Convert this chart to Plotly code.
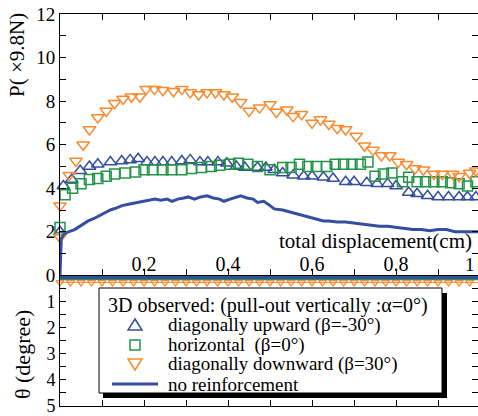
import plotly.graph_objects as go

# ---------------- data ----------------
# diagonally downward (beta=30 deg)  -- orange
down_x = [0, 0, 0.022, 0.038, 0.055, 0.07, 0.09, 0.11, 0.13, 0.15, 0.17, 0.19, 0.205, 0.225, 0.245,
          0.27, 0.29, 0.31, 0.33, 0.35, 0.37, 0.39, 0.41, 0.43, 0.45, 0.475, 0.50, 0.515, 0.54, 0.555,
          0.575, 0.60, 0.62, 0.64, 0.66, 0.68, 0.705, 0.725, 0.745, 0.765, 0.785, 0.805, 0.825, 0.845,
          0.865, 0.89, 0.91, 0.935, 0.95, 0.975, 0.99]
down_P = [1.75, 3.2, 4.6, 5.25, 6.0, 6.7, 7.25, 7.55, 7.9, 8.1, 8.2, 8.2, 8.55, 8.55, 8.5,
          8.45, 8.55, 8.4, 8.3, 8.4, 8.4, 8.3, 8.2, 7.95, 7.55, 7.7, 7.85, 7.5, 7.6, 7.3,
          7.4, 7.0, 7.15, 6.95, 6.75, 6.7, 6.4, 5.95, 5.75, 5.5, 5.5, 5.2, 5.1, 4.9,
          4.85, 4.65, 4.65, 4.65, 4.55, 4.7, 4.8]

# diagonally upward (beta=-30 deg)  -- blue triangles
up_x = [0, 0.008, 0.028, 0.048, 0.07, 0.09, 0.12, 0.147, 0.167, 0.186, 0.207, 0.226, 0.245, 0.266, 0.29,
        0.31, 0.333, 0.352, 0.376, 0.397, 0.42, 0.44, 0.47, 0.49, 0.51, 0.53, 0.555, 0.58, 0.60, 0.627,
        0.65, 0.68, 0.70, 0.73, 0.755, 0.78, 0.80, 0.83, 0.85, 0.875, 0.90, 0.925, 0.95, 0.97, 0.99]
up_P = [2.0, 4.1, 4.4, 4.8, 5.0, 5.1, 5.2, 5.25, 5.3, 5.35, 5.2, 5.2, 5.2, 5.2, 5.25,
        5.3, 5.2, 5.2, 5.2, 5.15, 5.0, 4.95, 4.95, 4.95, 4.85, 4.7, 4.6, 4.55, 4.55, 4.5,
        4.45, 4.3, 4.3, 4.25, 4.2, 4.2, 4.1, 3.8, 3.75, 3.65, 3.6, 3.6, 3.6, 3.6, 3.6]

# horizontal (beta=0 deg)  -- green squares
hor_x = [0, 0.012, 0.03, 0.05, 0.07, 0.09, 0.11, 0.13, 0.155, 0.18, 0.20, 0.22, 0.245, 0.265, 0.29, 0.313,
         0.337, 0.36, 0.38, 0.405, 0.425, 0.447, 0.47, 0.50, 0.53, 0.55, 0.57, 0.59, 0.61, 0.635, 0.655,
         0.675, 0.695, 0.715, 0.733, 0.75, 0.77, 0.79, 0.815, 0.83, 0.85, 0.87, 0.89, 0.91, 0.93, 0.95,
         0.97, 0.99]
hor_P = [2.2, 3.7, 4.0, 4.2, 4.4, 4.45, 4.55, 4.65, 4.7, 4.75, 4.85, 4.85, 4.85, 4.85, 4.85, 4.9,
         4.95, 5.0, 5.05, 5.1, 5.15, 5.1, 5.0, 4.85, 4.95, 4.95, 5.1, 5.0, 5.0, 5.0, 5.1,
         5.1, 5.1, 5.1, 5.2, 4.55, 4.65, 4.7, 4.3, 4.5, 4.3, 4.3, 4.3, 4.3, 4.25, 4.2,
         4.1, 4.3]

# no reinforcement  -- blue line
none_x = [0, 0.003, 0.01, 0.02, 0.035, 0.05, 0.067, 0.08, 0.095, 0.107, 0.12, 0.135, 0.148, 0.16, 0.175,
          0.195, 0.21, 0.226, 0.24, 0.255, 0.267, 0.28, 0.295, 0.305, 0.32, 0.335, 0.35, 0.365, 0.38,
          0.39, 0.405, 0.42, 0.43, 0.445, 0.46, 0.47, 0.485, 0.5, 0.51, 0.53, 0.55, 0.57, 0.59, 0.61,
          0.627, 0.64, 0.66, 0.68, 0.70, 0.72, 0.74, 0.76, 0.78, 0.80, 0.82, 0.84, 0.86, 0.88, 0.90,
          0.92, 0.94, 0.96, 0.98, 1.0]
none_P = [0, 1.7, 1.9, 2.0, 2.1, 2.3, 2.5, 2.6, 2.75, 2.9, 3.0, 3.1, 3.2, 3.25, 3.3,
          3.4, 3.45, 3.5, 3.45, 3.5, 3.4, 3.5, 3.55, 3.6, 3.5, 3.6, 3.65, 3.55, 3.5,
          3.4, 3.5, 3.6, 3.65, 3.55, 3.5, 3.35, 3.4, 3.2, 3.05, 3.0, 2.9, 2.8, 2.7, 2.6,
          2.5, 2.5, 2.45, 2.45, 2.4, 2.35, 2.3, 2.25, 2.25, 2.2, 2.15, 2.1, 2.1, 2.05, 2.1,
          2.1, 2.0, 2.0, 2.0, 2.0]

# theta (degree) records
th_x = [0.000, 0.025, 0.050, 0.075, 0.100, 0.125, 0.150, 0.175, 0.200, 0.225, 0.250, 0.275, 0.300, 0.325,
        0.350, 0.375, 0.400, 0.425, 0.450, 0.475, 0.500, 0.525, 0.550, 0.575, 0.600, 0.625, 0.650, 0.675,
        0.700, 0.725, 0.750, 0.775, 0.800, 0.825, 0.850, 0.875, 0.900, 0.925, 0.950, 0.975, 1.000]
th_up = [-0.05] * 41
th_hor = [0.15] * 41
th_down = [0.27] * 41
th_none = [0.08] * 41

y_ticks_P = [0, 1, 2, 3, 4, 5, 6, 7, 8, 9, 10, 11, 12]
y_text_P = ['0', '', '2', '', '4', '', '6', '', '8', '', '10', '', '12']
y_ticks_th = [0, 0.5, 1, 1.5, 2, 2.5, 3, 3.5, 4, 4.5, 5]
y_text_th = ['', '', '1', '', '2', '', '3', '', '4', '', '5']
x_ticks = [0.1, 0.2, 0.3, 0.4, 0.5, 0.6, 0.7, 0.8, 0.9]
x_label_vals = [0.2, 0.4, 0.6, 0.8]
x_label_text = ['0.2', '0.4', '0.6', '0.8']

legend_title = '3D observed: (pull-out vertically :α=0°)'
legend_labels = ['diagonally upward (β=-30°)', 'horizontal\u00a0\u00a0(β=0°)',
                 'diagonally downward (β=30°)', 'no reinforcement']

BLUE = 'rgb(52,78,160)'
GREEN = 'rgb(34,148,72)'
ORANGE = 'rgb(248,138,48)'
FONT = 'Liberation Serif, Times New Roman, serif'
XR = 0.995

TOP, BOT = 14, 406   # plot area top / bottom in pixels

# pixel -> paper helpers (plot area: x 60..478)
def PX(x):
    return (x - 60) / 418.0

def PY(y):
    return (BOT - y) / float(BOT - TOP)

fig = go.Figure()

# theta traces (lower panel)
fig.add_trace(go.Scatter(x=th_x, y=th_hor, xaxis='x2', yaxis='y2', mode='lines',
                         line=dict(color=GREEN, width=2), showlegend=False, hoverinfo='skip'))
fig.add_trace(go.Scatter(x=th_x, y=th_down, xaxis='x2', yaxis='y2', mode='lines+markers',
                         line=dict(color=ORANGE, width=1),
                         marker=dict(symbol='triangle-down-open', size=7, color=ORANGE, line=dict(width=1.2)),
                         showlegend=False, hoverinfo='skip', cliponaxis=False))
fig.add_trace(go.Scatter(x=th_x, y=th_none, xaxis='x2', yaxis='y2', mode='lines',
                         line=dict(color=BLUE, width=3), showlegend=False, hoverinfo='skip'))
fig.add_trace(go.Scatter(x=th_x, y=th_up, xaxis='x2', yaxis='y2', mode='lines+markers',
                         line=dict(color=BLUE, width=1),
                         marker=dict(symbol='triangle-up', size=6, color='white', line=dict(width=1.2, color=BLUE)),
                         showlegend=False, hoverinfo='skip', cliponaxis=False))

# force (upper panel)
fig.add_trace(go.Scatter(x=up_x, y=up_P, mode='markers', name=legend_labels[0],
                         marker=dict(symbol='triangle-up-open', size=11, color=BLUE, line=dict(width=1.5)),
                         cliponaxis=False))
fig.add_trace(go.Scatter(x=hor_x, y=hor_P, mode='markers', name=legend_labels[1],
                         marker=dict(symbol='square-open', size=10, color=GREEN, line=dict(width=1.5)),
                         cliponaxis=False))
fig.add_trace(go.Scatter(x=down_x, y=down_P, mode='markers', name=legend_labels[2],
                         marker=dict(symbol='triangle-down-open', size=11, color=ORANGE, line=dict(width=1.5)),
                         cliponaxis=False))
fig.add_trace(go.Scatter(x=none_x, y=none_P, mode='lines', name=legend_labels[3],
                         line=dict(color=BLUE, width=3)))
# empty trace that carries the labelled zero-line axis
fig.add_trace(go.Scatter(x=[], y=[], xaxis='x3', yaxis='y', showlegend=False, hoverinfo='skip'))

axis_common = dict(showline=True, linecolor='black', linewidth=1, showgrid=False, zeroline=False,
                   ticks='inside', tickcolor='black', ticklen=6, tickwidth=1,
                   ticklabeloverflow='allow')

# ---- hand-drawn legend box (shadow + frame + symbols) ----
shapes = [
    dict(type='rect', xref='paper', yref='paper', x0=PX(103), x1=PX(447), y0=PY(398), y1=PY(293),
         fillcolor='black', line=dict(width=0), layer='above'),
    dict(type='rect', xref='paper', yref='paper', x0=PX(99), x1=PX(442), y0=PY(393), y1=PY(288),
         fillcolor='white', line=dict(width=1, color='black'), layer='above'),
]
sym_x = 135
row_y = [325, 345, 364, 384]
tx, ty = sym_x, row_y[0]
shapes.append(dict(type='path', xref='paper', yref='paper', layer='above',
                   path=f'M {PX(tx-7)} {PY(ty+5)} L {PX(tx+7)} {PY(ty+5)} L {PX(tx)} {PY(ty-6)} Z',
                   line=dict(color=BLUE, width=1.5), fillcolor='white'))
tx, ty = sym_x, row_y[1]
shapes.append(dict(type='rect', xref='paper', yref='paper', layer='above',
                   x0=PX(tx-5), x1=PX(tx+5), y0=PY(ty+5), y1=PY(ty-5),
                   line=dict(color=GREEN, width=1.5), fillcolor='white'))
tx, ty = sym_x, row_y[2]
shapes.append(dict(type='path', xref='paper', yref='paper', layer='above',
                   path=f'M {PX(tx-7)} {PY(ty-5)} L {PX(tx+7)} {PY(ty-5)} L {PX(tx)} {PY(ty+6)} Z',
                   line=dict(color=ORANGE, width=1.5), fillcolor='white'))
shapes.append(dict(type='line', xref='paper', yref='paper', layer='above',
                   x0=PX(112), x1=PX(158), y0=PY(row_y[3]), y1=PY(row_y[3]),
                   line=dict(color=BLUE, width=3)))

LFS = 19
annotations = [
    dict(text=legend_title, xref='paper', yref='paper', x=PX(106), y=PY(305), xanchor='left',
         yanchor='middle', showarrow=False, font=dict(family=FONT, size=20, color='black')),
]
for lab, ry in zip(legend_labels, row_y):
    annotations.append(dict(text=lab, xref='paper', yref='paper', x=PX(166), y=PY(ry), xanchor='left',
                            yanchor='middle', showarrow=False,
                            font=dict(family=FONT, size=LFS, color='black')))

annotations += [
    dict(text='P( ×9.8N)', xref='paper', yref='paper', x=PX(17), y=PY(55), textangle=-90,
         showarrow=False, font=dict(family=FONT, size=21), xanchor='center', yanchor='middle'),
    dict(text='θ (degree)', xref='paper', yref='paper', x=PX(22), y=PY(355), textangle=-90,
         showarrow=False, font=dict(family=FONT, size=22), xanchor='center', yanchor='middle'),
    dict(text='total displacement(cm)', xref='paper', yref='paper', x=PX(474), y=PY(241),
         showarrow=False, font=dict(family=FONT, size=21), xanchor='right', yanchor='middle'),
    dict(text='1', xref='paper', yref='paper', x=PX(477), y=PY(264),
         showarrow=False, font=dict(family=FONT, size=19), xanchor='right', yanchor='middle'),
]

fig.update_layout(
    width=478, height=416,
    margin=dict(l=60, r=0, t=TOP, b=416 - BOT, autoexpand=False),
    paper_bgcolor='white', plot_bgcolor='white',
    font=dict(family=FONT, size=18, color='black'),
    showlegend=False,
    xaxis=dict(range=[0, XR], domain=[0, 1], anchor='y', side='bottom', mirror='ticks',
               tickvals=x_ticks, showticklabels=False, **axis_common),
    xaxis3=dict(range=[0, XR], domain=[0, 1], overlaying='x', anchor='free', position=1/3, side='top',
                tickvals=x_label_vals, ticktext=x_label_text, ticks='', showline=False,
                showgrid=False, zeroline=False, ticklabeloverflow='allow',
                tickfont=dict(family=FONT, size=20)),
    xaxis2=dict(range=[0, XR], domain=[0, 1], anchor='y2', tickvals=x_ticks,
                showticklabels=False, **axis_common),
    yaxis=dict(range=[0, 12], domain=[1/3, 1], anchor='x', mirror='ticks',
               tickvals=y_ticks_P, ticktext=y_text_P, tickfont=dict(family=FONT, size=19), **axis_common),
    yaxis2=dict(range=[5, 0], domain=[0, 1/3], anchor='x2', mirror='ticks',
                tickvals=y_ticks_th, ticktext=y_text_th, tickfont=dict(family=FONT, size=18), **axis_common),
    shapes=shapes,
    annotations=annotations,
)

fig.write_html('out.html')
